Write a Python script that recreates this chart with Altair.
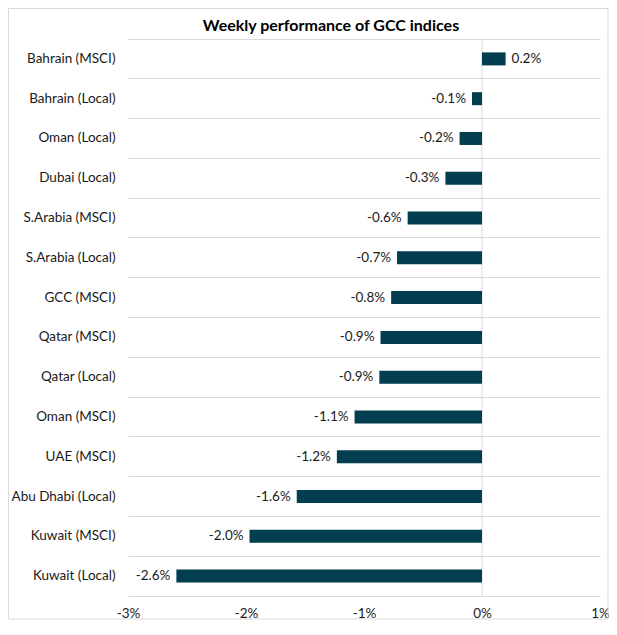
import altair as alt
import pandas as pd

categories = ["Bahrain (MSCI)", "Bahrain (Local)", "Oman (Local)", "Dubai (Local)",
              "S.Arabia (MSCI)", "S.Arabia (Local)", "GCC (MSCI)", "Qatar (MSCI)",
              "Qatar (Local)", "Oman (MSCI)", "UAE (MSCI)", "Abu Dhabi (Local)",
              "Kuwait (MSCI)", "Kuwait (Local)"]
values_pct = [0.20, -0.085, -0.19, -0.31, -0.63, -0.72, -0.77, -0.86, -0.87,
              -1.08, -1.23, -1.57, -1.97, -2.59]
x_ticks = [-0.03, -0.02, -0.01, 0.0, 0.01]
title_text = "Weekly performance of GCC indices"

df = pd.DataFrame({"name": categories, "value": [v / 100 for v in values_pct]})

FONT = "Lato"
BAR = "#023E4F"
GRID = "#D9D9D9"
TXT = "#1a1a1a"
W, H = 472, 557
PT, PB, PL, PR = 31, 24, 120, 9

y_enc = alt.Y("name:N", sort=categories, title=None,
              scale=alt.Scale(paddingInner=0, paddingOuter=0),
              axis=alt.Axis(bandPosition=0, grid=True, gridColor=GRID, gridWidth=1,
                            ticks=False, domain=False, labelPadding=13,
                            labelFont=FONT, labelFontSize=13.5, labelColor=TXT))
x_scale = alt.Scale(domain=[-0.03, 0.01], nice=False)

base = alt.Chart(df).transform_calculate(
    label="replace(format(datum.value, '.1%'), '\u2212', '-')"
)

border = alt.Chart(pd.DataFrame({"a": [0]})).mark_rect(
    fill=None, stroke=GRID, strokeWidth=1
).encode(x=alt.value(-PL + 0.5), x2=alt.value(W + PR - 1),
         y=alt.value(-PT + 0.5), y2=alt.value(H + PB - 1))

title = alt.Chart(pd.DataFrame({"t": [title_text]})).mark_text(
    font=FONT, fontSize=16, fontWeight="bold", color="#000000", align="center",
    baseline="middle"
).encode(x=alt.value(W / 2 - 33), y=alt.value(-13), text="t:N")

bars = base.mark_bar(size=13, color=BAR).encode(
    x=alt.X("value:Q", scale=x_scale, title=None,
            axis=alt.Axis(values=x_ticks, labelExpr="replace(format(datum.value, '.0%'), '\u2212', '-')",
                          grid=False, ticks=False, labelFlush=False,
                          domain=True, domainColor=GRID, labelPadding=10,
                          labelFont=FONT, labelFontSize=13.5, labelColor=TXT)),
    y=y_enc,
)

zero = alt.Chart(pd.DataFrame({"z": [0.0]})).mark_rule(color=GRID, strokeWidth=1).encode(
    x=alt.X("z:Q", scale=x_scale)
)

neg = base.transform_filter("datum.value < 0").mark_text(
    align="right", dx=-6, font=FONT, fontSize=13.5, color=TXT
).encode(x=alt.X("value:Q", scale=x_scale), y=alt.Y("name:N", sort=categories),
         text="label:N")
pos = base.transform_filter("datum.value >= 0").mark_text(
    align="left", dx=6, font=FONT, fontSize=13.5, color=TXT
).encode(x=alt.X("value:Q", scale=x_scale), y=alt.Y("name:N", sort=categories),
         text="label:N")

chart = alt.layer(border, title, zero, bars, neg, pos).properties(
    width=W, height=H,
    autosize=alt.AutoSizeParams(type="none"),
    padding={"left": PL, "top": PT, "right": PR, "bottom": PB},
).configure_view(stroke=None)

chart.save("out.html", embed_options={"renderer": "svg", "actions": False})
